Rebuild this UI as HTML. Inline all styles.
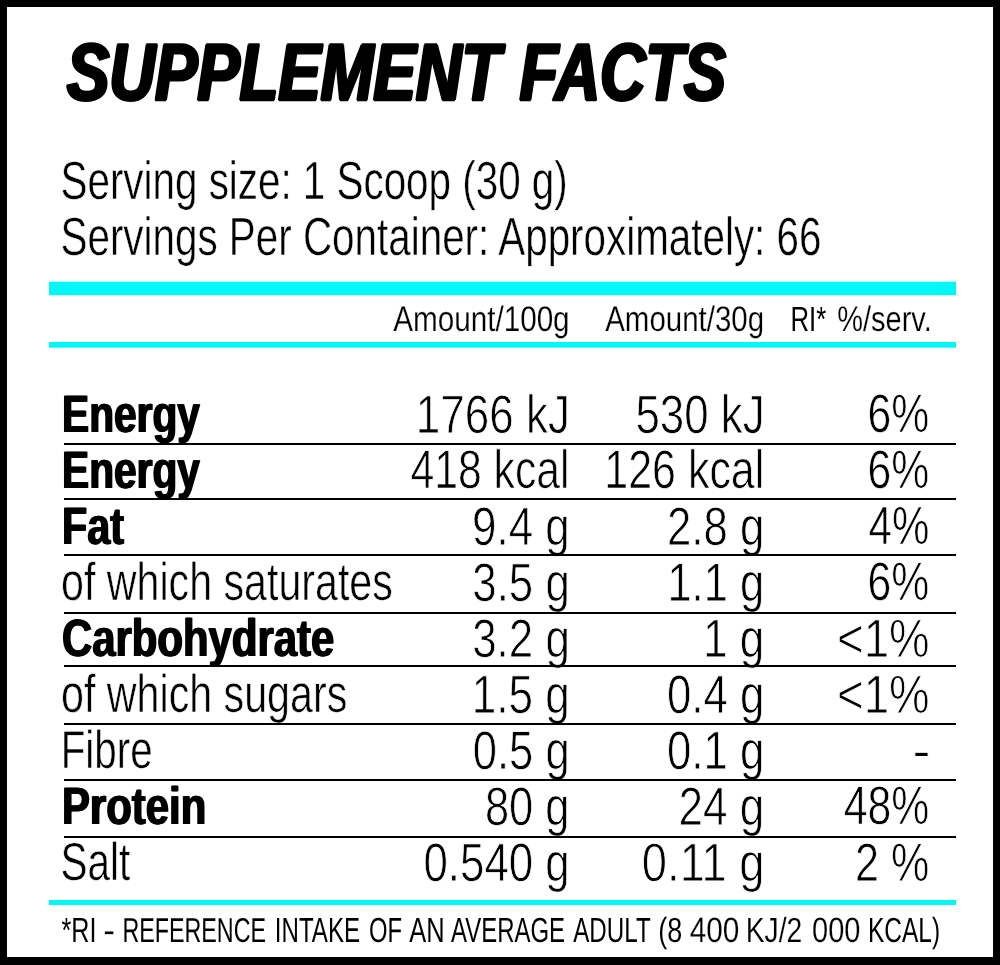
<!DOCTYPE html>
<html lang="en">
<head>
<meta charset="utf-8">
<title>Supplement Facts</title>
<style>
html,body{margin:0;padding:0;background:#fff;}
body{width:1000px;height:965px;position:relative;overflow:hidden;font-family:"Liberation Sans",sans-serif;color:#000;}
.label{position:absolute;left:0;top:0;width:1000px;height:965px;will-change:transform;}
.frame{position:absolute;left:0;top:0;width:1000px;height:965px;box-sizing:border-box;border-style:solid;border-color:#000;border-width:7px 7px 8px 7px;}
.bar{position:absolute;background:#00f8f8;}
.ln{position:absolute;background:#000;left:64px;width:892px;height:2px;}
h1,p{margin:0;padding:0;font-size:0;line-height:0;}
.t{display:block;position:absolute;left:0;top:0;white-space:pre;line-height:1;transform-origin:0 0;margin:0;padding:0;font-weight:normal;text-rendering:geometricPrecision;}
.b{-webkit-text-stroke:0;font-weight:bold;text-shadow:1.0px 0 0 #000,-1.0px 0 0 #000;}
.ti{font-weight:bold;font-style:italic;-webkit-text-stroke:2.4px #000;text-shadow:2.1px 0 0 #000,-2.1px 0 0 #000;}
</style>
</head>
<body>
<div class="label">
<div class="frame"></div>
<div class="bar" style="left:49px;top:282px;width:906.5px;height:13px;box-shadow:0 -1px 0 rgba(0,248,248,.3),0 1px 0 rgba(0,248,248,.2)"></div>
<div class="bar" style="left:49px;top:342px;width:906.5px;height:5px;box-shadow:0 1px 0 rgba(0,248,248,.7)"></div>
<div class="bar" style="left:49px;top:900px;width:906.5px;height:5px"></div>
<h1><span class="t ti" style="font-size:80.83px;transform:translate(67.00px,33.00px) scaleX(0.7845)">SUPPLEMENT</span> <span class="t ti" style="font-size:80.83px;transform:translate(519.70px,33.00px) scaleX(0.7781)">FACTS</span></h1>
<div class="t" style="font-size:53.79px;-webkit-text-stroke:0.0095em #fff;transform:translate(60.53px,155.00px) scaleX(0.7507)">Serving size: 1 Scoop (30 g)</div>
<div class="t" style="font-size:53.79px;-webkit-text-stroke:0.0095em #fff;transform:translate(60.53px,211.00px) scaleX(0.7509)">Servings Per Container: Approximately: 66</div>
<div class="t" style="font-size:35.63px;-webkit-text-stroke:0.0060em #fff;transform:translate(393.17px,302.00px) scaleX(0.8326)">Amount/100g</div>
<div class="t" style="font-size:35.63px;-webkit-text-stroke:0.0060em #fff;transform:translate(605.18px,302.00px) scaleX(0.8271)">Amount/30g</div>
<div class="t" style="font-size:34.90px;transform:translate(790.39px,303.00px) scaleX(0.7383)">RI*</div>
<div class="t" style="font-size:35.63px;-webkit-text-stroke:0.0060em #fff;transform:translate(837.20px,302.00px) scaleX(0.8137)">%/serv.</div>
<div class="t b" style="font-size:52.69px;transform:translate(62.02px,389.00px) scaleX(0.7721)">Energy</div>
<div class="t" style="font-size:54.17px;-webkit-text-stroke:0.0150em #fff;transform:translate(415.86px,388.00px) scaleX(0.8126)">1766 kJ</div>
<div class="t" style="font-size:54.17px;-webkit-text-stroke:0.0147em #fff;transform:translate(635.47px,388.00px) scaleX(0.8091)">530 kJ</div>
<div class="t" style="font-size:54.17px;-webkit-text-stroke:0.0134em #fff;transform:translate(867.47px,387.00px) scaleX(0.7904)">6%</div>
<div class="t b" style="font-size:52.69px;transform:translate(62.02px,445.00px) scaleX(0.7721)">Energy</div>
<div class="t" style="font-size:54.17px;-webkit-text-stroke:0.0133em #fff;transform:translate(410.48px,443.00px) scaleX(0.7888)">418 kcal</div>
<div class="t" style="font-size:54.17px;-webkit-text-stroke:0.0135em #fff;transform:translate(604.34px,443.00px) scaleX(0.7930)">126 kcal</div>
<div class="t" style="font-size:54.17px;-webkit-text-stroke:0.0134em #fff;transform:translate(867.47px,443.00px) scaleX(0.7904)">6%</div>
<div class="t b" style="font-size:52.69px;transform:translate(62.04px,501.00px) scaleX(0.7839)">Fat</div>
<div class="t" style="font-size:54.17px;-webkit-text-stroke:0.0147em #fff;transform:translate(471.97px,500.00px) scaleX(0.8118)">9.4 g</div>
<div class="t" style="font-size:54.17px;-webkit-text-stroke:0.0145em #fff;transform:translate(666.97px,500.00px) scaleX(0.8075)">2.8 g</div>
<div class="t" style="font-size:53.80px;-webkit-text-stroke:0.0122em #fff;transform:translate(868.49px,500.00px) scaleX(0.7827)">4%</div>
<div class="t" style="font-size:53.43px;-webkit-text-stroke:0.0110em #fff;transform:translate(61.02px,556.00px) scaleX(0.7707)">of which saturates</div>
<div class="t" style="font-size:54.17px;-webkit-text-stroke:0.0145em #fff;transform:translate(472.33px,556.00px) scaleX(0.8087)">3.5 g</div>
<div class="t" style="font-size:54.17px;-webkit-text-stroke:0.0143em #fff;transform:translate(667.40px,556.00px) scaleX(0.8025)">1.1 g</div>
<div class="t" style="font-size:54.17px;-webkit-text-stroke:0.0134em #fff;transform:translate(867.47px,555.00px) scaleX(0.7904)">6%</div>
<div class="t b" style="font-size:52.69px;transform:translate(61.98px,613.00px) scaleX(0.7949)">Carbohydrate</div>
<div class="t" style="font-size:54.17px;-webkit-text-stroke:0.0147em #fff;transform:translate(472.13px,612.00px) scaleX(0.8109)">3.2 g</div>
<div class="t" style="font-size:54.17px;-webkit-text-stroke:0.0151em #fff;transform:translate(703.11px,612.00px) scaleX(0.8130)">1 g</div>
<div class="t" style="font-size:54.17px;-webkit-text-stroke:0.0169em #fff;transform:translate(837.02px,612.00px) scaleX(0.8426)">&lt;1%</div>
<div class="t" style="font-size:53.43px;-webkit-text-stroke:0.0111em #fff;transform:translate(61.02px,668.00px) scaleX(0.7712)">of which sugars</div>
<div class="t" style="font-size:54.17px;-webkit-text-stroke:0.0149em #fff;transform:translate(471.70px,668.00px) scaleX(0.8141)">1.5 g</div>
<div class="t" style="font-size:54.17px;-webkit-text-stroke:0.0145em #fff;transform:translate(666.98px,668.00px) scaleX(0.8074)">0.4 g</div>
<div class="t" style="font-size:54.17px;-webkit-text-stroke:0.0169em #fff;transform:translate(837.02px,668.00px) scaleX(0.8426)">&lt;1%</div>
<div class="t" style="font-size:53.43px;-webkit-text-stroke:0.0098em #fff;transform:translate(60.66px,724.00px) scaleX(0.7553)">Fibre</div>
<div class="t" style="font-size:54.17px;-webkit-text-stroke:0.0144em #fff;transform:translate(472.69px,724.00px) scaleX(0.8048)">0.5 g</div>
<div class="t" style="font-size:54.17px;-webkit-text-stroke:0.0145em #fff;transform:translate(666.98px,724.00px) scaleX(0.8074)">0.1 g</div>
<div class="t" style="font-size:54.92px;-webkit-text-stroke:0.0220em #fff;transform:translate(912.25px,723.00px) scaleX(1.0086)">-</div>
<div class="t b" style="font-size:52.69px;transform:translate(61.96px,781.00px) scaleX(0.7953)">Protein</div>
<div class="t" style="font-size:54.17px;-webkit-text-stroke:0.0143em #fff;transform:translate(484.94px,780.00px) scaleX(0.8025)">80 g</div>
<div class="t" style="font-size:54.17px;-webkit-text-stroke:0.0151em #fff;transform:translate(678.41px,780.00px) scaleX(0.8133)">24 g</div>
<div class="t" style="font-size:54.17px;-webkit-text-stroke:0.0133em #fff;transform:translate(843.73px,779.00px) scaleX(0.7897)">48%</div>
<div class="t" style="font-size:53.43px;-webkit-text-stroke:0.0100em #fff;transform:translate(60.61px,836.00px) scaleX(0.7576)">Salt</div>
<div class="t" style="font-size:54.17px;-webkit-text-stroke:0.0147em #fff;transform:translate(423.43px,836.00px) scaleX(0.8098)">0.540 g</div>
<div class="t" style="font-size:54.17px;-webkit-text-stroke:0.0165em #fff;transform:translate(641.86px,836.00px) scaleX(0.8365)">0.11 g</div>
<div class="t" style="font-size:54.17px;-webkit-text-stroke:0.0139em #fff;transform:translate(855.00px,836.00px) scaleX(0.7966)">2 %</div>
<p><span class="t" style="font-size:34.90px;transform:translate(61.56px,914.00px) scaleX(0.7221)">*RI</span> <span class="t" style="font-size:34.54px;-webkit-text-stroke:0.0060em #fff;transform:translate(103.26px,914.00px) scaleX(1.0305)">-</span> <span class="t" style="font-size:34.54px;transform:translate(122.38px,914.00px) scaleX(0.6746)">REFERENCE</span> <span class="t" style="font-size:34.90px;transform:translate(274.82px,914.00px) scaleX(0.6901)">INTAKE</span> <span class="t" style="font-size:34.90px;transform:translate(368.94px,914.00px) scaleX(0.6822)">OF</span> <span class="t" style="font-size:34.90px;transform:translate(409.17px,914.00px) scaleX(0.7299)">AN</span> <span class="t" style="font-size:34.90px;transform:translate(451.03px,914.00px) scaleX(0.6864)">AVERAGE</span> <span class="t" style="font-size:34.90px;transform:translate(573.23px,914.00px) scaleX(0.6931)">ADULT</span> <span class="t" style="font-size:34.90px;-webkit-text-stroke:0.0014em #fff;transform:translate(658.26px,914.00px) scaleX(0.7713)">(8</span> <span class="t" style="font-size:35.26px;-webkit-text-stroke:0.0060em #fff;transform:translate(689.68px,913.00px) scaleX(0.8447)">400</span> <span class="t" style="font-size:34.90px;-webkit-text-stroke:0.0044em #fff;transform:translate(745.65px,914.00px) scaleX(0.8105)">KJ/2</span> <span class="t" style="font-size:35.26px;-webkit-text-stroke:0.0060em #fff;transform:translate(812.03px,913.00px) scaleX(0.8230)">000</span> <span class="t" style="font-size:34.90px;transform:translate(868.00px,914.00px) scaleX(0.7016)">KCAL)</span></p>
<div class="ln" style="top:443.0px"></div>
<div class="ln" style="top:498.4px"></div>
<div class="ln" style="top:554.4px"></div>
<div class="ln" style="top:611.9px"></div>
<div class="ln" style="top:665.3px"></div>
<div class="ln" style="top:722.7px"></div>
<div class="ln" style="top:779.0px"></div>
<div class="ln" style="top:836.4px"></div>
</div>
</body>
</html>
